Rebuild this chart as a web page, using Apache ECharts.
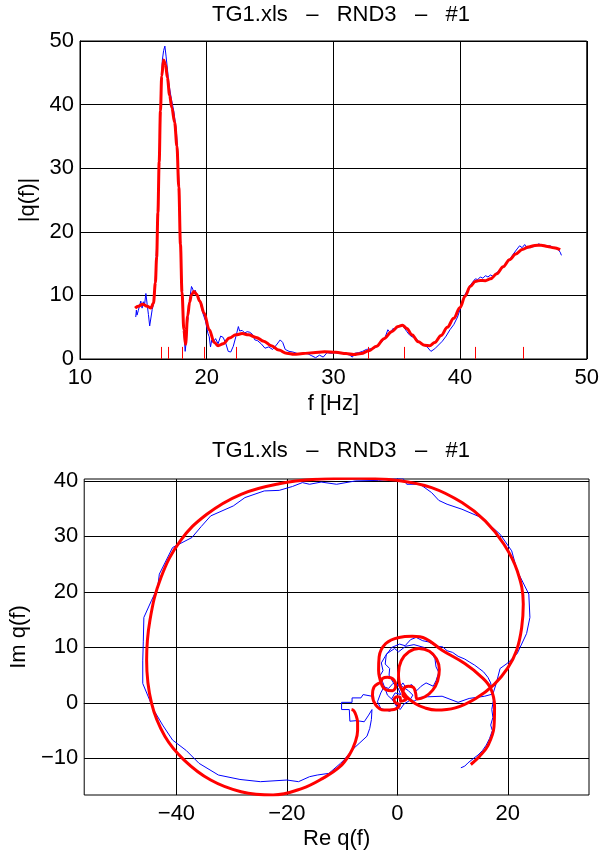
<!DOCTYPE html>
<html>
<head>
<meta charset="utf-8">
<title>TG1.xls – RND3 – #1</title>
<script src="https://cdn.jsdelivr.net/npm/echarts@6/dist/echarts.min.js"></script>
<style>
  html, body { margin: 0; padding: 0; background: #fff; }
  #chart { width: 602px; height: 856px; }
</style>
</head>
<body>
<div id="chart"></div>
<script>
// |q(f)| measured (blue, noisy) : [f, |q|]
const magMeasured = [
  [14.4, 6.6], [14.45, 7.7], [14.5, 6.9], [14.6, 7.6], [14.7, 8.4], [14.8, 9.1], [14.9, 8.0], [15.0, 9.0],
  [15.1, 8.6], [15.2, 10.3], [15.3, 8.6], [15.4, 7.0], [15.5, 5.2], [15.6, 5.1], [15.7, 7.8], [15.8, 8.6],
  [15.9, 10.5], [16.0, 15], [16.1, 21], [16.2, 28], [16.3, 36], [16.4, 43], [16.5, 47], [16.6, 48.5],
  [16.7, 49.2], [16.8, 47.5], [16.9, 45.6], [17.0, 43.5], [17.2, 41], [17.4, 39], [17.6, 36], [17.7, 33],
  [17.8, 28], [17.9, 21], [18.0, 14], [18.1, 8.5], [18.2, 4.5], [18.3, 1.2], [18.4, 3], [18.5, 6],
  [18.6, 8.5], [18.7, 10], [18.8, 11.4], [18.9, 11], [19.0, 10.2], [19.1, 10.8], [19.2, 10], [19.3, 9.8],
  [19.4, 9.6], [19.5, 8.8], [19.7, 7.2], [19.9, 6], [20.0, 5], [20.1, 4], [20.2, 3.5], [20.3, 1.9],
  [20.4, 3], [20.5, 2.6], [20.7, 3.2], [20.9, 2.4], [21.1, 3.6], [21.3, 3.4], [21.5, 2.5], [21.7, 1.2],
  [21.9, 1.1], [22.1, 2], [22.3, 3.5], [22.5, 5.1], [22.6, 4.4], [22.8, 4.5], [23.0, 4.1], [23.2, 4.3],
  [23.4, 4.2], [23.6, 3.9], [23.8, 3.0], [24.0, 2.9], [24.3, 2.4], [24.6, 1.7], [24.9, 1.9], [25.2, 1.5],
  [25.5, 2.2], [25.8, 3.0], [26.0, 2.6], [26.2, 1.5], [26.5, 1.2], [26.8, 1.1], [27.1, 0.9], [27.4, 0.7],
  [27.7, 0.9], [28.0, 0.8], [28.3, 0.5], [28.6, 0.2], [28.9, 0.6], [29.2, 0.3], [29.5, 1.0], [29.8, 0.9],
  [30.1, 1.0], [30.4, 0.9], [30.7, 1.0], [31.0, 0.8], [31.3, 0.6], [31.5, 0.3], [31.7, 0.9], [32.0, 1.0],
  [32.3, 1.2], [32.6, 1.5], [32.9, 1.6], [33.2, 1.7], [33.5, 2.0], [33.8, 2.6], [34.1, 3.5], [34.3, 4.6],
  [34.5, 4.1], [34.7, 4.8], [34.9, 4.6], [35.1, 5.0], [35.4, 5.4], [35.6, 4.9], [35.8, 4.3], [36.0, 3.8],
  [36.2, 3.5], [36.5, 3.3], [36.8, 2.6], [37.1, 2.2], [37.4, 1.9], [37.7, 1.2], [38.0, 1.6], [38.3, 2.2],
  [38.6, 2.8], [38.9, 3.6], [39.2, 4.6], [39.5, 5.4], [39.8, 6.6], [40.0, 7.8], [40.2, 9], [40.4, 10.2],
  [40.6, 10.8], [40.8, 11.6], [41.0, 12.1], [41.2, 12.6], [41.4, 12.5], [41.6, 12.9], [41.8, 12.7], [42.0, 13.1],
  [42.2, 12.9], [42.4, 13.2], [42.6, 13.0], [42.8, 13.4], [43.0, 13.8], [43.3, 14.2], [43.6, 14.9], [43.9, 15.6],
  [44.2, 16.5], [44.5, 17.3], [44.7, 17.8], [44.9, 17.5], [45.1, 18.0], [45.3, 17.4], [45.6, 17.6], [45.9, 17.7],
  [46.2, 18.1], [46.5, 17.9], [46.8, 17.7], [47.1, 17.8], [47.4, 17.5], [47.7, 17.3], [47.9, 16.8], [48.0, 16.3]
];

// |q(f)| fitted model (red, smooth)
const magFitted = [
  [14.35, 8.0], [14.6, 8.3], [14.95, 8.6], [15.3, 8.3], [15.6, 8.0], [15.8, 8.8], [15.95, 12], [16.05, 16],
  [16.15, 23], [16.25, 31], [16.35, 39], [16.45, 44.5], [16.6, 47.0], [16.75, 46.3], [16.9, 44.2], [17.07, 41.5],
  [17.25, 39.5], [17.47, 37.2], [17.65, 33.5], [17.8, 27], [17.93, 18], [18.05, 10.5], [18.2, 4.6], [18.33, 2.3],
  [18.5, 6.8], [18.65, 8.9], [18.8, 10.1], [19.0, 10.6], [19.2, 10.2], [19.45, 9.1], [19.8, 7.2], [20.2, 4.6],
  [20.6, 2.6], [20.9, 2.1], [21.3, 2.4], [21.8, 3.3], [22.3, 3.8], [22.8, 4.0], [23.3, 3.8], [23.9, 3.4],
  [24.5, 2.8], [25.1, 2.1], [25.7, 1.4], [26.3, 0.9], [26.9, 0.75], [27.6, 0.85], [28.4, 1.0], [29.3, 1.15],
  [30.2, 1.05], [31.0, 0.85], [31.6, 0.7], [32.2, 0.85], [32.8, 1.3], [33.4, 2.0], [34.0, 3.2], [34.6, 4.3],
  [35.1, 5.1], [35.45, 5.3], [35.8, 4.8], [36.2, 3.8], [36.7, 2.7], [37.2, 2.15], [37.6, 2.1], [38.0, 2.6],
  [38.5, 3.7], [39.0, 5.0], [39.5, 6.4], [40.0, 8.1], [40.4, 9.9], [40.8, 11.4], [41.2, 12.2], [41.6, 12.35],
  [42.0, 12.3], [42.4, 12.6], [42.9, 13.4], [43.4, 14.5], [43.9, 15.6], [44.4, 16.5], [44.9, 17.2], [45.4, 17.6],
  [45.9, 17.85], [46.4, 17.9], [46.9, 17.7], [47.4, 17.5], [47.9, 17.2]
];

// red marker frequencies along the f axis
const markerFreqs = [16.42, 16.99, 18.07, 19.77, 22.31, 32.79, 35.59, 41.17, 45.02];
const markerHeight = 1.9;

// Nyquist plot measured (blue) : [Re, Im]
const nyqMeasured = [
  [-4.6, 1.2], [-6.2, 1.5], [-6.6, 0.9], [-8.2, 0.9], [-8.2, 0.1], [-10.1, 0.1], [-10.1, -1.2], [-8.7, -1.2],
  [-8.6, -3.3], [-7.4, -3.2], [-6.0, -3.4], [-5.2, -2.2], [-4.6, -1.2], [-4.7, -3.0], [-5.0, -4.6], [-5.5, -6.0],
  [-6.8, -7.2], [-7.9, -8.2], [-8.6, -9.0], [-9.6, -10.2], [-10.3, -10.9], [-12.4, -12.7], [-14.5, -13.0], [-15.9, -13.3],
  [-17.9, -14.2], [-20.0, -13.9], [-24.8, -14.2], [-28.5, -13.8], [-32.4, -13.0], [-35.9, -10.9], [-38.2, -8.6], [-40.7, -6.7],
  [-42.5, -4.0], [-44.1, -1.3], [-46.1, 3.5], [-46.1, 7.7], [-46.0, 11.0], [-45.9, 15.4], [-44.5, 18.5], [-43.4, 20.8],
  [-43.1, 23.2], [-40.7, 28.0], [-37.2, 29.8], [-35.5, 31.8], [-33.8, 33.7], [-29.7, 35.5], [-27.6, 37.0], [-24.1, 38.2],
  [-21.4, 38.3], [-19.0, 39.0], [-17.2, 39.7], [-15.9, 39.4], [-13.8, 39.8], [-11.0, 39.4], [-7.6, 40.0], [-3.4, 40.1],
  [1.0, 40.5], [1.7, 39.4], [4.1, 39.4], [6.2, 37.9], [7.5, 36.5], [9.0, 35.8], [11.7, 34.9], [15.2, 33.4],
  [18.6, 30.4], [20.7, 27.4], [21.7, 23.8], [23.8, 19.6], [24.0, 15.4], [23.4, 12.5], [21.7, 8.9], [20.0, 7.2],
  [18.6, 6.2], [17.9, 3.5], [17.3, 1.6], [15.8, 1.2], [13.0, 0.8], [11.0, 0.1], [8.1, 1.2], [5.5, 1.1],
  [4.2, 1.0], [3.0, 0.3], [1.0, 1.5], [0.4, 3.0], [-0.6, 3.4], [-1.5, 5.0], [-1.4, 6.2], [-2.2, 7.0],
  [-2.0, 8.8], [-0.5, 9.8], [0.2, 9.2], [1.5, 10.2], [3.0, 10.5], [4.8, 10.0], [6.2, 8.9], [6.8, 8.0],
  [7.0, 6.5], [7.5, 5.5], [7.0, 4.0], [6.5, 3.0], [5.2, 3.6], [4.3, 3.0], [3.5, 2.2], [2.6, 3.3],
  [1.5, 2.8], [1.0, 3.6], [0.2, 2.5], [0.6, 1.5], [-0.4, 1.8], [-1.0, 0.8], [-0.3, -0.4], [0.5, -1.2],
  [1.2, -0.2], [2.2, 0.4], [2.8, 1.4], [2.0, 2.2], [0.5, 3.2], [-0.8, 3.5], [-1.6, 2.6], [-2.4, 2.9],
  [-3.0, 1.8], [-3.6, 0.2], [-3.0, -1.0], [-1.4, -1.5], [0.0, -0.8], [-0.6, 0.3], [-1.8, 1.4], [-2.6, 3.6],
  [-3.2, 4.8], [-2.6, 5.8], [-2.9, 7.2], [-2.2, 8.4], [-1.0, 10.0], [0.4, 10.6], [1.4, 10.3], [2.4, 11.4],
  [3.4, 11.8], [4.6, 11.2], [5.6, 11.0], [6.4, 10.6], [7.2, 10.2], [8.2, 10.1], [9.0, 9.4], [10.0, 9.1],
  [11.0, 8.4], [12.2, 7.9], [13.0, 7.4], [14.0, 6.8], [14.8, 6.2], [15.6, 5.6], [16.4, 4.6], [16.9, 3.6],
  [17.1, 2.2], [17.4, 0.5], [17.1, -1.2], [17.3, -2.6], [16.9, -4.0], [17.2, -5.0], [16.7, -6.4], [16.1, -7.6],
  [15.4, -8.6], [14.6, -9.4], [13.8, -10.0], [12.8, -10.8], [12.2, -11.4], [11.5, -11.7]
];

// Nyquist plot fitted model (red)
const nyqFitted = [
  [-8.3, -1.2], [-7.9, -1.4], [-7.5, -2.2], [-7.2, -3.5], [-7.2, -5.0], [-7.6, -7.0], [-8.6, -9.2], [-10.4, -11.5],
  [-13.5, -13.6], [-17.2, -15.4], [-22.5, -16.6], [-28.3, -16.0], [-33.8, -13.9], [-38.6, -10.3], [-42.1, -6.0], [-44.5, -0.1],
  [-45.4, 7.7], [-44.8, 14.9], [-42.8, 22.6], [-39.3, 29.2], [-34.5, 34.0], [-28.3, 37.6], [-21.4, 39.5], [-14.5, 40.3],
  [-6.9, 40.5], [0.0, 40.1], [6.2, 38.8], [11.7, 36.1], [15.9, 32.8], [19.3, 28.6], [21.7, 23.8], [22.8, 17.8],
  [22.5, 13.5], [21.6, 9.5], [20.0, 6.3], [17.5, 3.3], [14.2, 0.8], [10.5, -0.9], [7.0, -1.3], [5.0, -0.9],
  [3.2, -0.1], [1.6, 1.2], [0.5, 3.0], [0.2, 5.3], [0.7, 7.6], [2.1, 9.2], [3.9, 9.8], [5.8, 9.3],
  [7.1, 7.9], [7.6, 6.0], [7.3, 4.0], [6.4, 2.3], [5.0, 1.1], [3.6, 0.7], [3.3, 1.8], [2.9, 2.8],
  [2.0, 3.0], [1.1, 2.4], [1.0, 1.4], [1.6, 0.7], [0.6, 0.3], [0.5, 1.0], [0.0, 1.1], [-0.6, 0.6],
  [-0.3, 0.0], [0.4, -0.3], [-0.6, -1.2], [-2.4, -1.3], [-3.9, -0.4], [-4.5, 1.4], [-4.2, 2.9], [-3.0, 3.8],
  [-2.7, 4.4], [-1.8, 4.6], [-0.6, 4.1], [-0.3, 3.0], [-0.9, 2.2], [-2.1, 2.4], [-2.8, 3.2], [-3.4, 5.9],
  [-3.3, 8.3], [-2.1, 10.7], [0.3, 11.8], [2.7, 12.0], [5.1, 11.6], [8.1, 9.5], [12.2, 7.1], [15.2, 4.7],
  [16.9, 2.6], [17.6, -0.7], [17.5, -4.3], [16.4, -7.7], [14.9, -9.6], [13.3, -11.1]
];

const reTicks = [-40, -20, 0, 20];
const imTicks = [-10, 0, 10, 20, 30, 40];
const titleText = 'TG1.xls   \u2013   RND3   \u2013   #1';

const FONT = 'Liberation Sans, Arial, Helvetica, sans-serif';
const minus = v => String(v).replace('-', '\u2212');

const labelStyle = { color: '#000', fontSize: 22, fontFamily: FONT };
const nameStyle = { color: '#000', fontSize: 22, fontFamily: FONT };
const lineAxis = { show: true, lineStyle: { color: '#000', width: 1 } };
const gridLine = { show: true, lineStyle: { color: '#000', width: 1, type: 'solid' } };

const chart = echarts.init(document.getElementById('chart'), null, { renderer: 'canvas' });

chart.setOption({
  animation: false,
  backgroundColor: '#fff',
  graphic: [
    { type: 'text', x: 341, y: 15, style: { text: titleText, textAlign: 'center', textVerticalAlign: 'middle', fontSize: 22, fontFamily: FONT, fill: '#000' } },
    { type: 'text', x: 341, y: 451, style: { text: titleText, textAlign: 'center', textVerticalAlign: 'middle', fontSize: 22, fontFamily: FONT, fill: '#000' } }
  ],
  grid: [
    { left: 80, top: 41, width: 509, height: 318, show: true, borderColor: '#000', borderWidth: 1, containLabel: false },
    { left: 80, top: 479, width: 509, height: 316, show: true, borderColor: '#000', borderWidth: 1, containLabel: false }
  ],
  xAxis: [
    {
      gridIndex: 0, type: 'value', min: 10, max: 50, interval: 10,
      name: 'f [Hz]', nameLocation: 'middle', nameGap: 34, nameTextStyle: nameStyle,
      axisLine: lineAxis, axisTick: { show: false },
      axisLabel: Object.assign({ margin: 8 }, labelStyle),
      splitLine: gridLine
    },
    {
      gridIndex: 1, type: 'value', min: -56.7, max: 34.7,
      name: 'Re q(f)', nameLocation: 'middle', nameGap: 33, nameTextStyle: nameStyle,
      axisLine: lineAxis,
      axisTick: { show: false, customValues: reTicks },
      axisLabel: Object.assign({ margin: 8, customValues: reTicks, formatter: minus }, labelStyle),
      splitLine: gridLine
    }
  ],
  yAxis: [
    {
      gridIndex: 0, type: 'value', min: 0, max: 50, interval: 10,
      name: '|q(f)|', nameLocation: 'middle', nameGap: 35, nameTextStyle: nameStyle,
      axisLine: lineAxis, axisTick: { show: false },
      axisLabel: Object.assign({ margin: 6 }, labelStyle),
      splitLine: gridLine
    },
    {
      gridIndex: 1, type: 'value', min: -16.6, max: 40.35,
      name: 'Im q(f)', nameLocation: 'middle', nameGap: 50, nameTextStyle: nameStyle,
      axisLine: lineAxis,
      axisTick: { show: false, customValues: imTicks },
      axisLabel: Object.assign({ margin: 6, customValues: imTicks, formatter: minus }, labelStyle),
      splitLine: gridLine
    }
  ],
  series: [
    {
      name: 'measured', type: 'line', xAxisIndex: 0, yAxisIndex: 0,
      data: magMeasured, showSymbol: false, silent: true,
      lineStyle: { color: '#0000ff', width: 1 }
    },
    {
      name: 'fitted', type: 'line', xAxisIndex: 0, yAxisIndex: 0,
      data: magFitted, showSymbol: false, silent: true,
      smooth: 0.35, smoothMonotone: 'x',
      lineStyle: { color: '#ff0000', width: 3 },
      markLine: {
        silent: true, symbol: ['none', 'none'], label: { show: false },
        lineStyle: { color: '#ff0000', width: 1, type: 'solid' },
        data: markerFreqs.map(f => [{ coord: [f, 0] }, { coord: [f, markerHeight] }])
      }
    },
    {
      name: 'measured nyquist', type: 'line', xAxisIndex: 1, yAxisIndex: 1,
      data: nyqMeasured, showSymbol: false, silent: true,
      lineStyle: { color: '#0000ff', width: 1 }
    },
    {
      name: 'fitted nyquist', type: 'line', xAxisIndex: 1, yAxisIndex: 1,
      data: nyqFitted, showSymbol: false, silent: true,
      smooth: 0.4,
      lineStyle: { color: '#ff0000', width: 3 }
    }
  ]
});
</script>
</body>
</html>
